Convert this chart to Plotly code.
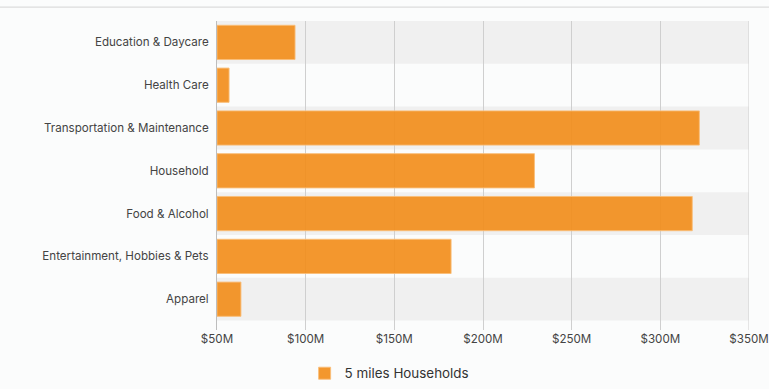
import plotly.graph_objects as go

categories = ["Education & Daycare", "Health Care", "Transportation & Maintenance",
              "Household", "Food & Alcohol", "Entertainment, Hobbies & Pets", "Apparel"]
values_musd = [94, 56.8, 322, 229, 318, 182, 63.5]
series_name = "5 miles Households"
tick_values = [50, 100, 150, 200, 250, 300, 350]
tick_labels = ["$50M", "$100M", "$150M", "$200M", "$250M", "$300M", "$350M"]

positions = list(range(len(categories)))

fig = go.Figure()
fig.add_trace(go.Bar(
    y=positions, x=[v - 50 for v in values_musd], base=50, orientation="h",
    name=series_name, width=0.8,
    marker=dict(color="rgba(242,142,28,0.92)", line=dict(color="rgba(250,190,120,0.9)", width=1)),
    showlegend=True,
))

shapes = []
for i in positions:
    if i % 2 == 0:
        shapes.append(dict(type="rect", xref="paper", yref="y", x0=0, x1=1,
                           y0=i - 0.5, y1=i + 0.5, fillcolor="#f0f0f0",
                           line=dict(width=0), layer="below"))
# right edge grid line
shapes.append(dict(type="line", xref="x", yref="paper", x0=tick_values[-1], x1=tick_values[-1],
                   y0=0, y1=1, line=dict(color="#cfcfcf", width=1)))
# header separator line
shapes.append(dict(type="line", xref="paper", yref="paper", x0=-0.41, x1=1.04,
                   y0=1.045, y1=1.045, line=dict(color="#dcdcdc", width=1.2)))
fig.update_layout(shapes=shapes)

fig.update_layout(
    width=769, height=389,
    margin=dict(l=217, r=20, t=21, b=59, autoexpand=False),
    paper_bgcolor="#fbfcfc", plot_bgcolor="#fbfcfc",
    font=dict(family="Inter, Roboto, sans-serif", size=11.6, color="#444444"),
    bargap=0.2,
    xaxis=dict(range=[50, 350], tickvals=tick_values, ticktext=tick_labels,
               showgrid=True, gridcolor="#cfcfcf", gridwidth=1, zeroline=False,
               showline=False, ticks="", automargin=False, ticklabeloverflow="allow",
               tickfont=dict(size=11.6, color="#444444")),
    yaxis=dict(range=[6.72, -0.5], tickvals=positions, ticktext=categories,
               showgrid=False, zeroline=False, showline=True, linecolor="#bdbdbd",
               linewidth=1, ticks="", ticklabelstandoff=5, automargin=False,
               tickfont=dict(size=11.6, color="#444444")),
    legend=dict(orientation="h", xref="container", yref="container",
                x=0.506, xanchor="center", y=-0.013, yanchor="bottom",
                font=dict(size=13.4, color="#333333"), itemwidth=30),
    showlegend=True,
)

fig.write_html("out.html", config={"displayModeBar": False},
               post_script="document.body.style.margin='0';document.body.style.overflow='hidden';")
